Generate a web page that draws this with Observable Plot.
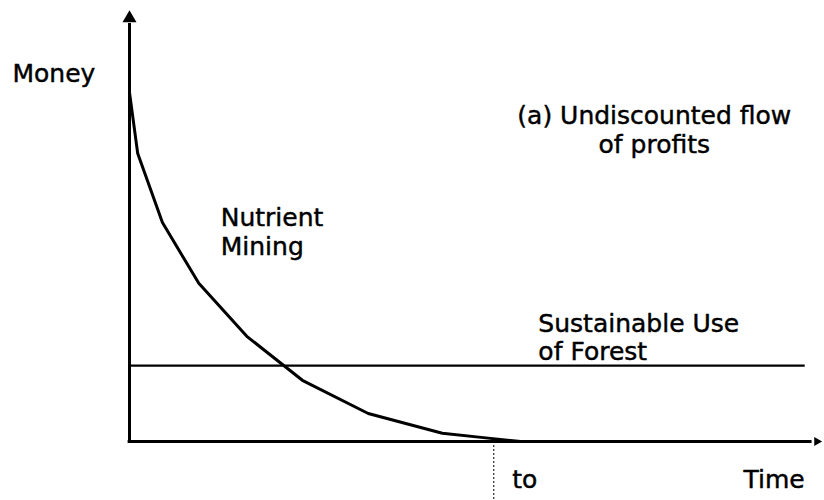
<!DOCTYPE html>
<html>
<head>
<meta charset="utf-8">
<script src="https://cdn.jsdelivr.net/npm/d3@7"></script>
<script src="https://cdn.jsdelivr.net/npm/@observablehq/plot@0.6"></script>
<style>
  html, body { margin: 0; padding: 0; background: #fff; }
</style>
</head>
<body>
<div id="chart"></div>
<script>
// Time (abstract units) and profit flow of nutrient mining
const time = [0, 1.2, 4.8, 10.1, 17.1, 25.2, 34.8, 45.6, 51.6, 57];
const miningProfit = [81, 66.8, 50.8, 36.7, 24.4, 14.2, 6.5, 1.9, 0.9, 0];
// Sustainable use: constant profit level
const sustainableProfit = 17.6;
const sustainableEnd = 98.5;
// Time at which mining profits vanish
const tZero = 53.1;

// Annotation texts
const labelText = ["Money", "(a) Undiscounted flow\nof profits", "Nutrient\nMining", "Sustainable Use\nof Forest", "to", "Time"];
const labelAnchor = ["start", "middle", "start", "start", "start", "start"];
const labelX = [-17.06, 76.5, 13.3, 59.6, 55.8, 89.5];
const labelY = [88.3, 78.4, 54.7, 30.3, -6.1, -6.1];

const mining = time.map((t, i) => ({t, v: miningProfit[i]}));
const labels = labelText.map((text, i) => ({text, anchor: labelAnchor[i], x: labelX[i], y: labelY[i]}));

const textStyle = {x: "x", y: "y", text: "text", lineAnchor: "top", fontSize: 25, lineHeight: 1.16, fill: "black", stroke: "black", strokeWidth: 0.45};

const chart = Plot.plot({
  width: 824,
  height: 500,
  marginLeft: 129,
  marginRight: 9,
  marginTop: 10,
  marginBottom: 59,
  x: {domain: [0, 100], axis: null},
  y: {domain: [0, 100], axis: null},
  style: {fontFamily: "DejaVu Sans", background: "white", color: "black"},
  marks: [
    // axes
    Plot.ruleX([0], {y1: 0, y2: 97, stroke: "black", strokeWidth: 3}),
    Plot.ruleY([0], {x1: -0.2, x2: 99.5, stroke: "black", strokeWidth: 3}),
    Plot.dot([0], {x: 0, y: 98.2, symbol: "triangle", r: 5.2, fill: "black"}),
    Plot.dot([0], {x: 100.2, y: 0, symbol: "triangle", r: 3.4, fill: "black", rotate: 90}),
    // sustainable use
    Plot.ruleY([sustainableProfit], {x1: 0, x2: sustainableEnd, stroke: "black", strokeWidth: 2.4}),
    // to marker
    Plot.ruleX([tZero], {y1: 0, y2: -14, stroke: "black", strokeWidth: 1, strokeDasharray: "2,2"}),
    // nutrient mining
    Plot.line(mining, {x: "t", y: "v", stroke: "black", strokeWidth: 3, curve: "linear"}),
    // labels
    Plot.text(labels.filter(d => d.anchor === "start"), {...textStyle, textAnchor: "start"}),
    Plot.text(labels.filter(d => d.anchor === "middle"), {...textStyle, textAnchor: "middle"})
  ]
});
document.getElementById("chart").appendChild(chart);
</script>
</body>
</html>
